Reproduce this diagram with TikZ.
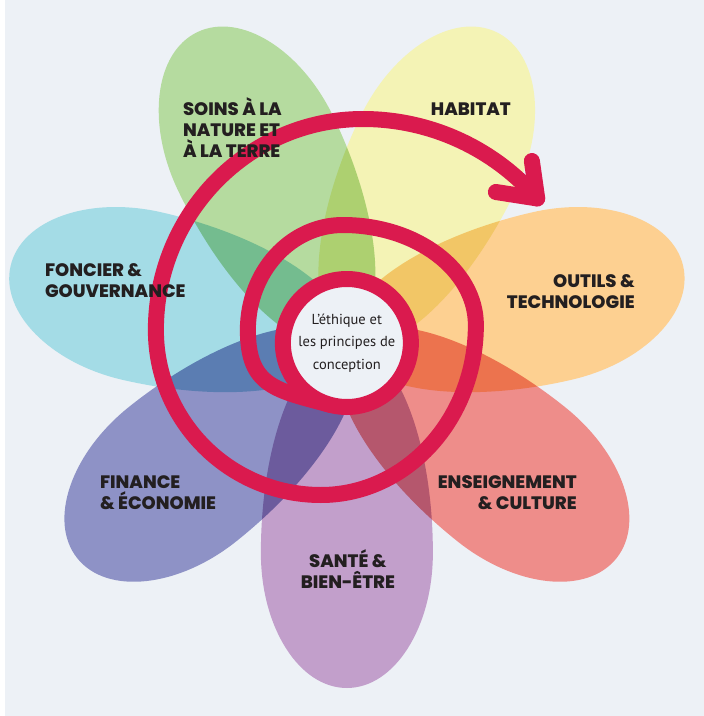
\documentclass[tikz,border=0pt]{standalone}
\usepackage{fontspec}
\newfontfamily\petalfont{Poppins}[BoldFont={* ExtraBold}]
\newfontfamily\handfont{PT Sans}
\definecolor{flowerbg}{HTML}{EDF1F6}
\definecolor{petalgreen}{HTML}{B5DB9F}
\definecolor{petalyellow}{HTML}{F4F3B5}
\definecolor{petalorange}{HTML}{FDD091}
\definecolor{petalred}{HTML}{EE8D8A}
\definecolor{petalpurple}{HTML}{C29FCB}
\definecolor{petalblue}{HTML}{8E92C6}
\definecolor{petalcyan}{HTML}{A4DCE6}
\definecolor{spiralred}{HTML}{DA1A4E}
\definecolor{labelink}{HTML}{231F20}

\begin{document}
\begin{tikzpicture}[
  x=1pt, y=1pt,
  petal/.pic={\path[pic actions] (210,-86)
      arc[start angle=-90, end angle=90, x radius=135, y radius=86]
      arc[start angle=90, end angle=270, x radius=210, y radius=86] -- cycle;},
  spiral/.style={draw=spiralred, line width=16pt, line cap=round, line join=round},
  hub/.style={circle, draw=spiralred, line width=16pt, fill=flowerbg,
              minimum size=128pt, inner sep=0pt, align=center, text=labelink,
              font=\handfont\fontsize{14.5}{22.5}\selectfont},
  petaltext/.style={font=\petalfont\bfseries\fontsize{18}{21}\selectfont,
                    text=labelink, inner sep=0pt}
]
\fill[flowerbg] (-342,-373) rectangle (357,343);

% petals, overlaps multiplied
\begin{scope}[transparency group]
\begin{scope}[blend mode=multiply]
\pic[rotate=-90, fill=petalpurple] {petal};
\pic[rotate=-38.6, fill=petalred] {petal};
\pic[rotate=12.9, fill=petalorange] {petal};
\pic[rotate=64.3, fill=petalyellow] {petal};
\pic[rotate=115.7, fill=petalgreen] {petal};
\pic[rotate=167.1, fill=petalcyan] {petal};
\pic[rotate=218.6, fill=petalblue] {petal};
\end{scope}
\end{scope}

% spiral, clockwise from the hub ring
\draw[spiral] (255:64) to[out=165, in=-90, looseness=1.3] (-99,13)
  arc[start angle=180, end angle=90, x radius=95, y radius=105]
  arc[start angle=90, end angle=0, x radius=133, y radius=100]
  arc[start angle=0, end angle=-90, x radius=155, y radius=170]
  arc[start angle=270, end angle=180, radius=165]
  arc[start angle=180, end angle=90, x radius=207, y radius=211]
  arc[start angle=90, end angle=41, radius=231] coordinate (tip);
\coordinate (barbup) at (185,182);
\coordinate (barbleft) at (149,151);
\draw[spiral] (barbup) -- (tip) -- (barbleft);

\node[hub] (ethics) at (0,0) {L’éthique et\\les principes de\\conception};

\node[petaltext, anchor=west, align=left] (soins) at (-164,215) {SOINS À LA\\NATURE ET\\À LA TERRE};
\node[petaltext] (habitat) at (124,234) {HABITAT};
\node[petaltext, anchor=west, align=left] (foncier) at (-302,62) {FONCIER \&\\GOUVERNANCE};
\node[petaltext, anchor=east, align=right] (outils) at (288,51) {OUTILS \&\\TECHNOLOGIE};
\node[petaltext, anchor=west, align=left] (finance) at (-247,-150) {FINANCE\\\& ÉCONOMIE};
\node[petaltext, anchor=east, align=right] (enseignement) at (230,-150) {ENSEIGNEMENT\\\& CULTURE};
\node[petaltext, align=center] (sante) at (1,-226) {SANTÉ \&\\BIEN-ÊTRE};
\end{tikzpicture}
\end{document}
